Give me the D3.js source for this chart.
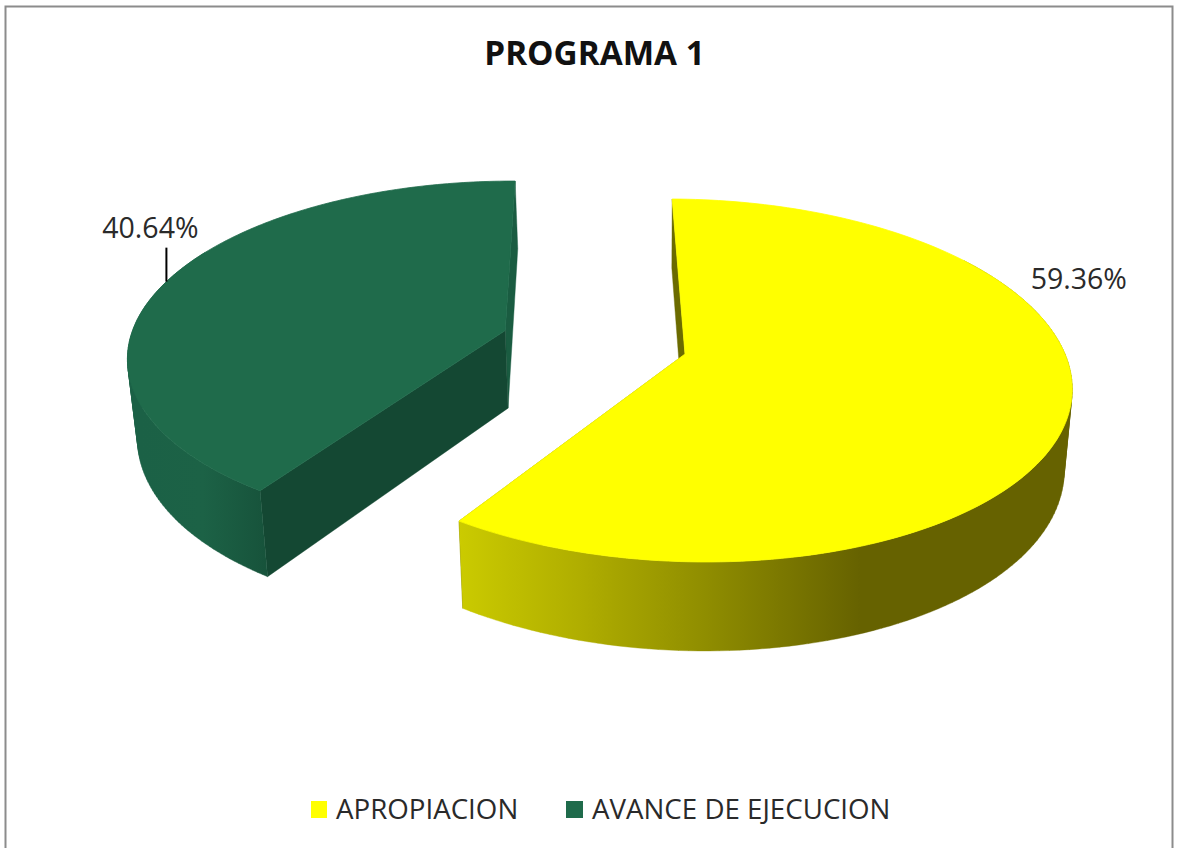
<!DOCTYPE html>
<html><head><meta charset="utf-8">
<script src="https://cdnjs.cloudflare.com/ajax/libs/d3/7.8.5/d3.min.js"></script>
<style>html,body{margin:0;padding:0;background:#fff;overflow:hidden}svg{display:block}</style>
</head><body><svg id="c" width="1177" height="848"></svg>
<script>
const chartTitle = "PROGRAMA 1";
const categories = ["APROPIACION", "AVANCE DE EJECUCION"];
const values = [59.36, 40.64];
const valueLabels = ["59.36%", "40.64%"];
const topColors = ["#ffff00", "#1f6b4b"];

const svg = d3.select("#c");
const FONT = "'Open Sans','Noto Sans',sans-serif";

// view model: flat circle seen in perspective, with a slight skew
const cx = 685, cy = 354, a = 380, b = 18, k = 177.6, p = 0.146;
const project = (u, v) => [cx + (a * u + b * v) / (1 - p * v), cy + k * v / (1 - p * v)];
const lower = (u, v) => {
  const [x, y] = project(u, v);
  return [x - (x - 653) * 0.0191, y + 79 + 10 * v];
};
const explode = [{u: 0, v: 0}, {u: -0.476, v: -0.135}];
const rad = Math.PI / 180;
const startDeg = 0.5;
const slices = d3.pie().sort(null).startAngle(startDeg * rad).endAngle((360 + startDeg) * rad)(values);
const onCircle = (t, e) => [Math.sin(t) + e.u, -Math.cos(t) + e.v];
const line = d3.line();

const defs = svg.append("defs");
const gradY = defs.append("linearGradient").attr("id", "sideY")
  .attr("gradientUnits", "userSpaceOnUse").attr("x1", 458).attr("x2", 860).attr("y1", 0).attr("y2", 0);
[[0, "#cbcb00"], [0.3, "#b0ae00"], [0.6, "#918f00"], [1, "#666200"]].forEach(s =>
  gradY.append("stop").attr("offset", s[0]).attr("stop-color", s[1]));
const gradG = defs.append("linearGradient").attr("id", "sideG")
  .attr("gradientUnits", "userSpaceOnUse").attr("x1", 140).attr("x2", 266).attr("y1", 0).attr("y2", 0);
[[0, "#1b6146"], [0.5, "#1c6246"], [1, "#17533b"]].forEach(s =>
  gradG.append("stop").attr("offset", s[0]).attr("stop-color", s[1]));
const sideFill = ["url(#sideY)", "url(#sideG)"];
const startFace = ["#6b6b00", "#144833"];
const endFace = ["#6b6b00", "#1a5c41"];

// frame
svg.append("rect").attr("x", 5.5).attr("y", 6.5).attr("width", 1167).attr("height", 860)
  .attr("fill", "#fff").attr("stroke", "#8c8c8c").attr("stroke-width", 2);

// title
svg.append("text").attr("x", 594.5).attr("y", 65).attr("text-anchor", "middle")
  .attr("font-family", FONT).attr("font-weight", 700).attr("font-size", 33.3).attr("fill", "#111")
  .text(chartTitle);

const solid = (sel, fill, w) => sel.attr("fill", fill).attr("stroke", fill).attr("stroke-width", w).attr("stroke-linejoin", "round");

slices.forEach((d, i) => {
  const e = explode[i];
  const n = 160;
  const angles = d3.range(n + 1).map(j => d.startAngle + (d.endAngle - d.startAngle) * j / n);
  const pts = angles.map(t => onCircle(t, e));
  const topArc = pts.map(q => project(q[0], q[1]));
  const lowArc = pts.map(q => lower(q[0], q[1]));
  const apexT = project(e.u, e.v), apexL = lower(e.u, e.v);
  const g = svg.append("g");
  solid(g.append("path").attr("d", line([topArc[n], apexT, apexL, lowArc[n]]) + "Z"), endFace[i], 0.4);
  solid(g.append("path").attr("d", line([topArc[0], apexT, apexL, lowArc[0]]) + "Z"), startFace[i], 0.4);
  // the rim wall: one same-wound quad per arc step, only where it faces the viewer
  let wall = "";
  for (let j = 0; j < n; j++) {
    if (angles[j] < 55 * rad || angles[j + 1] > 300 * rad) continue;
    const quad = [topArc[j], topArc[j + 1], lowArc[j + 1], lowArc[j]];
    if (d3.polygonArea(quad) < 0) quad.reverse();
    wall += line(quad) + "Z";
  }
  solid(g.append("path").attr("d", wall), sideFill[i], 0.4);
  solid(g.append("path").attr("d", line([apexT].concat(topArc)) + "Z"), topColors[i], 0.8);
});

// data labels
const labelOffset = [[9, -120], [-16, -44]];
slices.forEach((d, i) => {
  const mid = (d.startAngle + d.endAngle) / 2;
  const q = onCircle(mid, explode[i]);
  const [x, y] = project(q[0], q[1]);
  svg.append("text").attr("x", x + labelOffset[i][0]).attr("y", y + labelOffset[i][1])
    .attr("text-anchor", "middle").attr("font-family", FONT).attr("font-size", 28.5).attr("fill", "#2a2a2a")
    .text(valueLabels[i]);
  if (i === 1) svg.append("line").attr("x1", x).attr("x2", x).attr("y1", y - 34).attr("y2", y)
    .attr("stroke", "#000").attr("stroke-width", 2);
});

// legend
const legendX = [311, 566], legendW = [16, 17], legendText = [336, 592];
categories.forEach((c, i) => {
  svg.append("rect").attr("x", legendX[i]).attr("y", 801).attr("width", legendW[i]).attr("height", 17)
    .attr("fill", topColors[i]);
  svg.append("text").attr("x", legendText[i]).attr("y", 819)
    .attr("font-family", FONT).attr("font-size", 27.7).attr("fill", "#2a2a2a").text(c);
});
</script></body></html>
